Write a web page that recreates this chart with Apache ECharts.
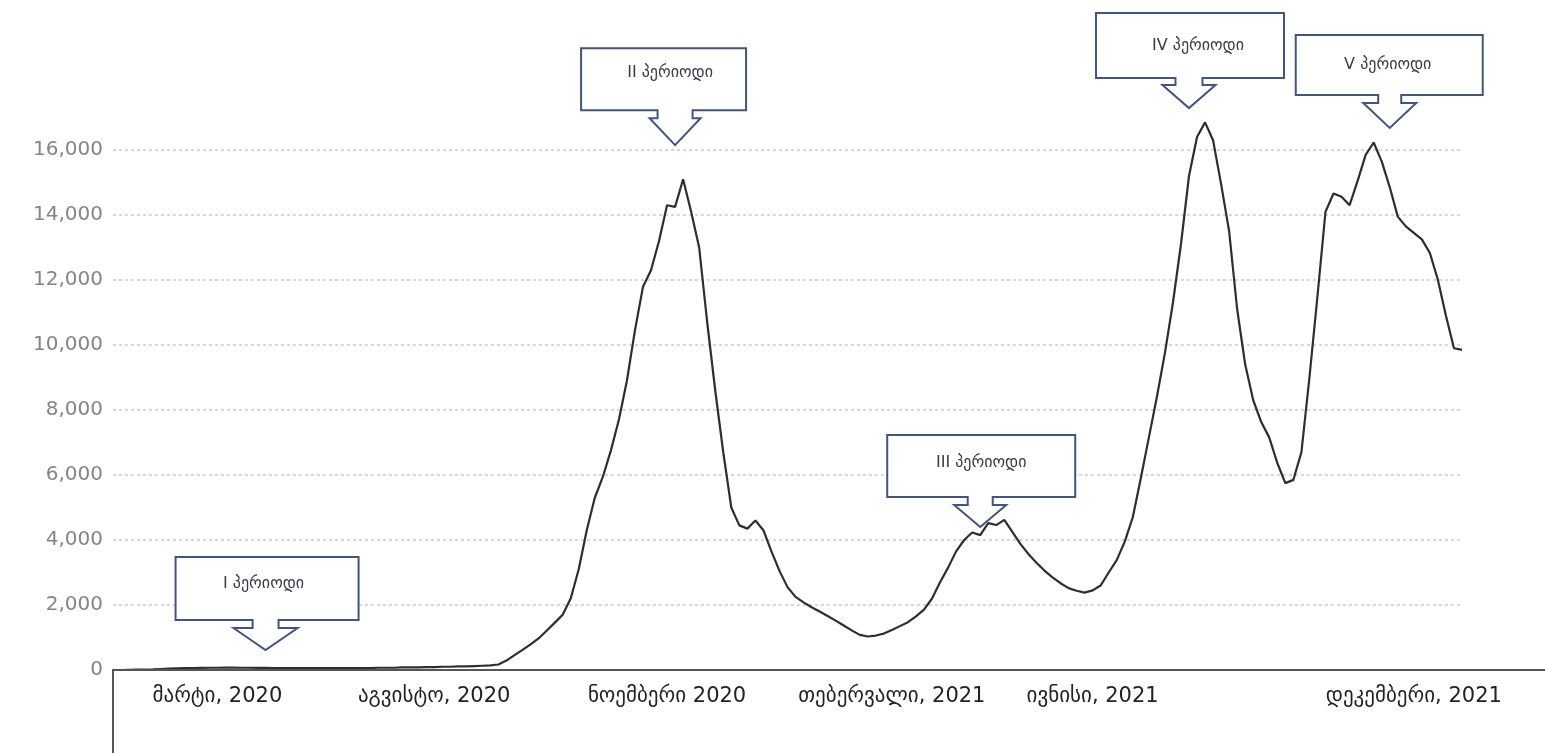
<!DOCTYPE html>
<html><head><meta charset="utf-8">
<script src="https://cdn.jsdelivr.net/npm/echarts/dist/echarts.min.js"></script>
<style>html,body{margin:0;padding:0;background:#fff}#c{width:1545px;height:753px}</style>
</head><body><div id="c"></div>
<script>
// values, one array per stretch of the curve
const period1 = [0,0,5,10,15,20,30,40,50,55,60,65,70,70,75,75,70,70,65,65,60,60,60,55,55,55,55,60,60,60,60,
  60,60,70,70,70,80,80,80,90,90,100,100,110,110,120,130,140];
const period2 = [170,290,460,620,790,970,1210,1450,1700,2200,3100,4300,5300,5940,6750,7700,8900,10450,11790,12300,
  13200,14300,14250,15100,14100,13000,10700,8600,6700,5000,4450,4350,4600,4300,3650,3050,2550,2250,2080,1930,
  1800,1660,1520,1370,1220,1080];
const period3 = [1030,1060,1120,1230,1350,1470,1650,1860,2200,2700,3150,3650,4000,4230,4150,4520,4460,4620,4250,3880,
  3570,3300,3060,2850,2670,2520,2440,2380];
const period4 = [2450,2600,3000,3380,3950,4700,5900,7150,8400,9750,11300,13100,15200,16400,16850,16300,14950,13500,11100,9400,
  8300,7630,7150,6370,5750];
const period5 = [5850,6700,9000,11500,14100,14660,14560,14300,15050,15850,16230,15650,14860,13950,13650,13450,13250,12830,12000,10900,
  9900,9850];

const xTickLabels = ['მარტი, 2020','აგვისტო, 2020','ნოემბერი 2020','თებერვალი, 2021','ივნისი, 2021','დეკემბერი, 2021'];
const xTickIndex = [13,40,69,97,122,162];

const calloutLabels = ['I პერიოდი','II პერიოდი','III პერიოდი','IV პერიოდი','V პერიოდი'];
const calloutIndex = [19,70,108,134,159];
const calloutValue = [615,16150,4400,17290,16680];

const values = [].concat(period1, period2, period3, period4, period5);
const categories = values.map((v, i) => 'p' + i);

// callout shapes (box size, offsets) – styling only
const calloutShapes = [
  {w:183, h:63, dx:1.5, nh:8, hh:22, n:13, hw:32, tx:-3.5, ty:-5},
  {w:165, h:62, dx:-11.5, nh:8, hh:27, n:17.5, hw:25.5, tx:6.5, ty:-6},
  {w:188, h:62, dx:1, nh:8, hh:22, n:12.5, hw:26, tx:0, ty:-3},
  {w:188, h:65, dx:1, nh:7, hh:23, n:13.5, hw:26.5, tx:8, ty:0},
  {w:187, h:60, dx:-0.5, nh:8, hh:25, n:11.5, hw:26.5, tx:-1.5, ty:0}
];

const chart = echarts.init(document.getElementById('c'));
chart.setOption({
  animation: false,
  backgroundColor: '#ffffff',
  grid: {left: 113, right: 83, top: 150, bottom: 83, containLabel: false},
  xAxis: {
    type: 'category',
    data: categories,
    boundaryGap: false,
    axisLine: {show: true, lineStyle: {color: '#555555', width: 2}},
    axisTick: {show: false},
    splitLine: {show: false},
    axisLabel: {
      interval: (idx) => xTickIndex.indexOf(idx) >= 0,
      formatter: (val, idx) => { const k = xTickIndex.indexOf(idx); return k >= 0 ? xTickLabels[k] : ''; },
      color: '#222222', fontSize: 21, fontFamily: 'DejaVu Sans', margin: 16, hideOverlap: false
    }
  },
  yAxis: {
    type: 'value', min: 0, max: 16000, interval: 2000,
    axisLine: {show: false}, axisTick: {show: false},
    splitLine: {show: true, lineStyle: {color: '#cccccc', type: [3, 3], width: 1.5}},
    axisLabel: {
      formatter: (v) => v.toLocaleString('en-US'),
      color: '#858585', fontSize: 20, fontFamily: 'DejaVu Sans', margin: 10
    }
  },
  series: [{
    type: 'line', data: values, symbol: 'none', clip: false, z: 2,
    lineStyle: {color: '#2e2e2e', width: 2.2}
  }]
});

function drawDecor() {
  const graphics = [];
  const y0 = chart.convertToPixel({yAxisIndex: 0}, 0);
  const xL = chart.convertToPixel({xAxisIndex: 0}, 0);
  graphics.push({type: 'polyline', z: 50, shape: {points: [[xL, 753], [xL, y0], [1545, y0]]},
    style: {stroke: '#555555', lineWidth: 2, fill: null}});
  calloutLabels.forEach((lab, i) => {
    const s = calloutShapes[i];
    const p = chart.convertToPixel({seriesIndex: 0}, [calloutIndex[i], calloutValue[i]]);
    const tx = p[0], ty = p[1];
    const bottom = ty - s.hh - s.nh, top = bottom - s.h;
    const bx1 = tx + s.dx - s.w / 2, bx2 = tx + s.dx + s.w / 2;
    const pts = [[bx1, top], [bx2, top], [bx2, bottom], [tx + s.n, bottom], [tx + s.n, ty - s.hh],
      [tx + s.hw, ty - s.hh], [tx, ty], [tx - s.hw, ty - s.hh], [tx - s.n, ty - s.hh], [tx - s.n, bottom], [bx1, bottom]];
    graphics.push({type: 'polygon', z: 100, shape: {points: pts},
      style: {fill: '#ffffff', stroke: '#44547a', lineWidth: 2}});
    graphics.push({type: 'text', z: 101, style: {
      text: lab, x: tx + s.dx + s.tx, y: (top + bottom) / 2 + s.ty,
      textAlign: 'center', textVerticalAlign: 'middle', verticalAlign: 'middle',
      fontSize: 16, fontFamily: 'DejaVu Sans', fill: '#3a3a4a'}});
  });
  chart.setOption({graphic: graphics});
}
drawDecor();
</script>
</body></html>
